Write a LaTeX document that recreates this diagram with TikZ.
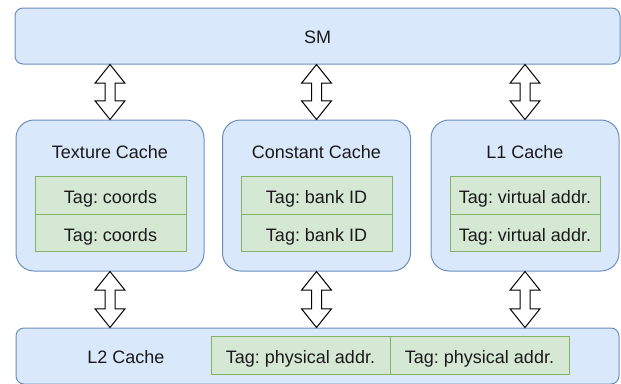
\documentclass[tikz,border=0pt]{standalone}
\usepackage{fontspec}
\setmainfont{Liberation Sans}
\usetikzlibrary{calc}
\frenchspacing
\definecolor{bfill}{HTML}{DAE8FC}
\definecolor{bline}{HTML}{6C8EBF}
\definecolor{gfill}{HTML}{D5E8D4}
\definecolor{gline}{HTML}{82B366}
\definecolor{txt}{HTML}{1A1A1A}
\tikzset{
  wide/.style={draw=bline, fill=bfill, line width=1pt, rounded corners=8pt, inner sep=0pt},
  cachebox/.style={draw=bline, fill=bfill, line width=1pt, rounded corners=18pt, inner sep=0pt,
     minimum width=188pt, minimum height=151pt},
  tagbox/.style={draw=gline, fill=gfill, line width=1pt, inner sep=0pt, minimum height=37.5pt},
  lbl/.style={text=txt, font=\fontsize{18}{22}\selectfont\frenchspacing, inner sep=0pt, text height=12.9pt, text depth=0pt},
  arrowshape/.style={draw=black, fill=white, line width=1pt, line join=miter},
}
\newcommand\bidir[2]{%
  \draw[arrowshape] let \p1=(#1), \p2=(#2) in
   (\x1,\y1) -- (\x1+15pt,\y1-18.7pt) -- (\x1+5pt,\y1-18.7pt) -- (\x1+5pt,\y2+18.7pt)
   -- (\x1+15pt,\y2+18.7pt) -- (\x1,\y2) -- (\x1-15pt,\y2+18.7pt) -- (\x1-5pt,\y2+18.7pt)
   -- (\x1-5pt,\y1-18.7pt) -- (\x1-15pt,\y1-18.7pt) -- cycle;}
\begin{document}
\begin{tikzpicture}[x=1pt,y=-1pt]
\useasboundingbox (0,0) rectangle (621,383);
% SM
\node[wide, minimum width=605pt, minimum height=56pt] (sm) at (317.5,36) {};
\node[lbl] (smt) at (317.5,37.5) {SM};
% caches
\node[cachebox] (tex) at (110,195.5) {};
\node[cachebox] (con) at (316.5,195.5) {};
\node[cachebox] (l1) at (525,195.5) {};
\node[lbl] (text) at (110,152) {Texture Cache};
\node[lbl] (cont) at (316.5,152) {Constant Cache};
\node[lbl] (l1t) at (525,152) {L1 Cache};
% tags
\node[tagbox, minimum width=151pt] (tx1) at (110.5,195.5) {};
\node[tagbox, minimum width=151pt] (tx2) at (110.5,233) {};
\node[lbl] at (110.5,197) {Tag: coords};
\node[lbl] at (110.5,234.7) {Tag: coords};
\node[tagbox, minimum width=151pt] (cn1) at (316.5,195.5) {};
\node[tagbox, minimum width=151pt] (cn2) at (316.5,233) {};
\node[lbl] at (316.5,197) {Tag: bank ID};
\node[lbl] at (316.5,234.7) {Tag: bank ID};
\node[tagbox, minimum width=150pt] (v1) at (525,195.5) {};
\node[tagbox, minimum width=150pt] (v2) at (525,233) {};
\node[lbl] at (525,197) {Tag: virtual addr.};
\node[lbl] at (525,234.7) {Tag: virtual addr.};
% L2
\node[wide, minimum width=603pt, minimum height=56pt] (l2) at (317.5,356) {};
\node[lbl] (l2t) at (126,356.7) {L2 Cache};
\node[tagbox, minimum width=179pt] (p1) at (300.5,355.5) {};
\node[tagbox, minimum width=179pt] (p2) at (479.5,355.5) {};
\node[lbl] at (300.5,356.7) {Tag: physical addr.};
\node[lbl] at (479.5,356.7) {Tag: physical addr.};
% arrows
\bidir{sm.south -| tex.north}{tex.north}
\bidir{sm.south -| con.north}{con.north}
\bidir{sm.south -| l1.north}{l1.north}
\bidir{tex.south}{l2.north -| tex.south}
\bidir{con.south}{l2.north -| con.south}
\bidir{l1.south}{l2.north -| l1.south}
\end{tikzpicture}
\end{document}
